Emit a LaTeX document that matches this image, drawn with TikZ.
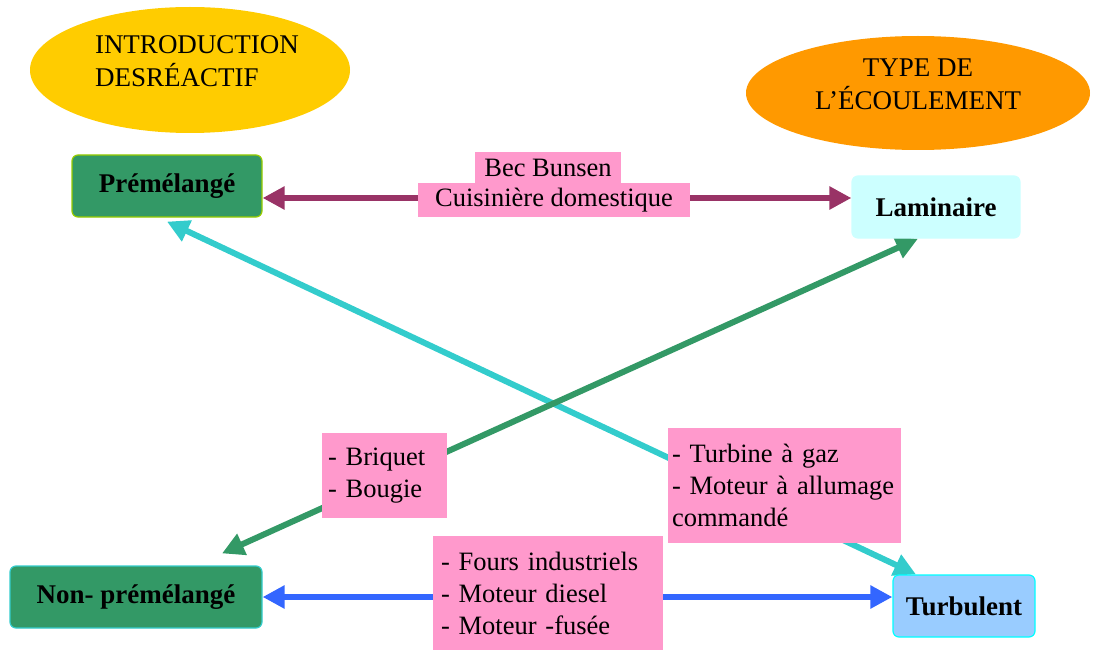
\documentclass[tikz,border=0pt]{standalone}
\usepackage{fontspec}
\setmainfont{Liberation Serif}
\usetikzlibrary{arrows.meta,shapes.geometric,backgrounds}
\definecolor{yel}{HTML}{FFCC00}
\definecolor{ora}{HTML}{FF9900}
\definecolor{grn}{HTML}{339966}
\definecolor{ygrn}{HTML}{99CC00}
\definecolor{cyn}{HTML}{33CCCC}
\definecolor{acyn}{HTML}{00FFFF}
\definecolor{lcyan}{HTML}{CCFFFF}
\definecolor{lblue}{HTML}{99CCFF}
\definecolor{pink}{HTML}{FF99CC}
\definecolor{purp}{HTML}{993366}
\definecolor{blu}{HTML}{3366FF}
\tikzset{
  oval/.style={ellipse, inner sep=0pt, align=left, text depth=18pt, font=\fontsize{27}{33}\selectfont},
  cat/.style={rectangle, rounded corners=6pt, minimum height=62pt, inner sep=0pt, line width=1.2pt, font=\fontsize{27}{30}\selectfont\bfseries},
  lab/.style={rectangle, fill=pink, inner sep=0pt, font=\fontsize{26.5}{32}\selectfont},
  conn/.style={line width=6pt, {Triangle[length=22pt,width=22pt]}-{Triangle[length=22pt,width=22pt]}}
}
\begin{document}
\begin{tikzpicture}[x=1pt,y=-1pt]
\useasboundingbox (0,0) rectangle (1093,650);
\node[oval, fill=yel, minimum width=320pt, minimum height=126pt] (intro) at (190,70) {\hspace*{14pt}INTRODUCTION\\\hspace*{14pt}DESRÉACTIF};
\node[oval, fill=ora, minimum width=344pt, minimum height=114pt, align=center] (type) at (918,93) {TYPE DE\\L’ÉCOULEMENT};
\node[cat, fill=grn, draw=ygrn, minimum width=190pt] (pre) at (167,186) {Prémélangé};
\node[cat, fill=lcyan, draw=lcyan, minimum width=168pt] (lam) at (936,207) {Laminaire};
\node[cat, fill=grn, draw=cyn, minimum width=252pt] (non) at (136,597) {Non- prémélangé};
\node[cat, fill=lblue, draw=acyn, minimum width=142pt] (turb) at (964,606) {Turbulent};
\node[lab, minimum width=146pt, minimum height=31pt] (bec) at (548,167.5) {Bec Bunsen};
\node[lab, minimum width=272pt, minimum height=34pt] (cuis) at (554,200) {Cuisinière domestique};
\node[lab, minimum width=125pt, minimum height=85pt, text width=113pt, align=left] (briq) at (384.5,475.5) {- Briquet\\- Bougie};
\node[lab, minimum width=233pt, minimum height=115pt, text width=225pt, align=left] (turbine) at (784.5,485.5) {- Turbine à gaz\\- Moteur à allumage\\commandé};
\node[lab, minimum width=230pt, minimum height=114pt, text width=214pt, align=left] (fours) at (548,593) {- Fours industriels\\- Moteur diesel\\- Moteur -fusée};
\begin{pgfonlayer}{background}
\draw[conn, purp] ([yshift=-12pt]pre.east) -- ([yshift=9pt]lam.west);
\draw[conn, cyn] ([yshift=-4pt]pre.south) -- ([xshift=-48pt]turb.north);
\draw[conn, grn] ([xshift=86pt,yshift=12pt]non.north) -- ([xshift=-18pt]lam.south);
\draw[conn, blu] (non.east) -- ([yshift=9pt]turb.west);
\end{pgfonlayer}
\end{tikzpicture}
\end{document}
